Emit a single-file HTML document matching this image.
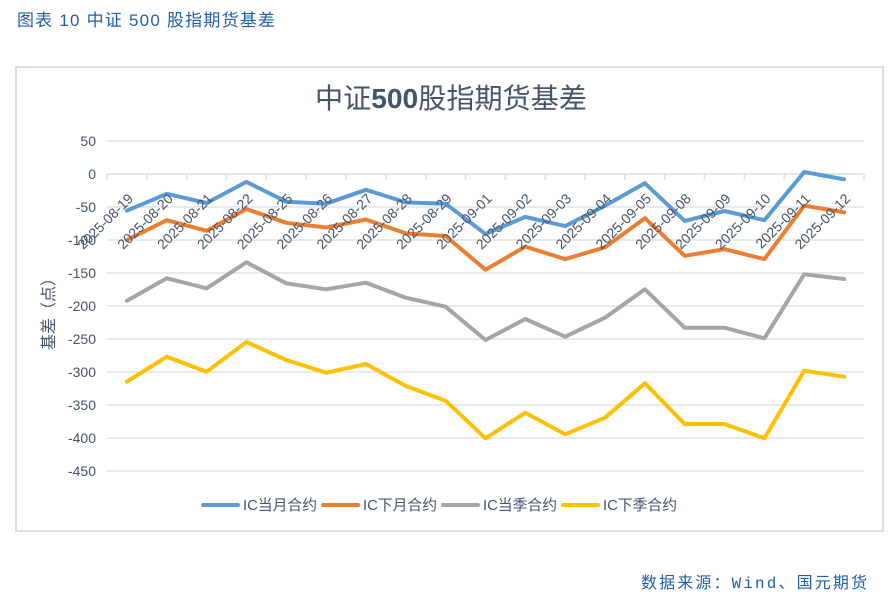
<!DOCTYPE html>
<html><head><meta charset="utf-8"><style>
html,body{margin:0;padding:0;background:#fff;}
svg{display:block;}
text{font-family:"Liberation Sans","Noto Sans CJK SC",sans-serif;}
</style></head><body>
<svg width="890" height="597" viewBox="0 0 890 597" xmlns="http://www.w3.org/2000/svg">
<rect width="890" height="597" fill="#fff"/>
<text x="17" y="26" font-size="17" fill="#2160a8" textLength="258" lengthAdjust="spacing">图表 10  中证 500 股指期货基差</text>
<rect x="16" y="67" width="867" height="464" fill="#fff" stroke="#dbe0e6" stroke-width="2"/>
<text x="451" y="108" font-size="28" fill="#44546a" text-anchor="middle" textLength="272" lengthAdjust="spacingAndGlyphs">中证<tspan font-weight="bold">500</tspan>股指期货基差</text>
<g stroke="#dfe3e8" stroke-width="1.4">
<line x1="107" y1="141" x2="864" y2="141"/>
<line x1="107" y1="207" x2="864" y2="207"/>
<line x1="107" y1="240" x2="864" y2="240"/>
<line x1="107" y1="273" x2="864" y2="273"/>
<line x1="107" y1="306" x2="864" y2="306"/>
<line x1="107" y1="339" x2="864" y2="339"/>
<line x1="107" y1="372" x2="864" y2="372"/>
<line x1="107" y1="405" x2="864" y2="405"/>
<line x1="107" y1="438" x2="864" y2="438"/>
<line x1="107" y1="471" x2="864" y2="471"/>
<line x1="107" y1="174" x2="864" y2="174" stroke-width="1.8"/>
<path d="M107 174v6M146.8 174v6M186.7 174v6M226.5 174v6M266.4 174v6M306.2 174v6M346.1 174v6M385.9 174v6M425.7 174v6M465.6 174v6M505.4 174v6M545.3 174v6M585.1 174v6M624.9 174v6M664.8 174v6M704.6 174v6M744.5 174v6M784.3 174v6M824.1 174v6M864 174v6" stroke-width="1.8"/>
</g>
<g font-size="14" fill="#44546a" text-anchor="end">
<text x="96" y="146">50</text>
<text x="96" y="179">0</text>
<text x="96" y="212">-50</text>
<text x="96" y="245">-100</text>
<text x="96" y="278">-150</text>
<text x="96" y="311">-200</text>
<text x="96" y="344">-250</text>
<text x="96" y="377">-300</text>
<text x="96" y="410">-350</text>
<text x="96" y="443">-400</text>
<text x="96" y="476">-450</text>
</g>
<text transform="translate(54,310) rotate(-90)" font-size="16" fill="#44546a" text-anchor="middle">基差（点）</text>
<g fill="none" stroke-width="4" stroke-linejoin="round" stroke-linecap="round">
<polyline stroke="#ffc000" points="126.9,381.7 166.8,356.7 206.6,371.7 246.4,342 286.3,360 326.1,372.7 366,364 405.8,386 445.6,400.7 485.5,438.3 525.3,412.7 565.2,434.3 605,417.7 644.9,383.3 684.7,424 724.5,424 764.4,438.3 804.2,370.7 844.1,376.7"/>
<polyline stroke="#a5a5a5" points="126.9,300.7 166.8,278.3 206.6,288.3 246.4,262.3 286.3,283.3 326.1,289.3 366,282.7 405.8,297.7 445.6,306.7 485.5,340 525.3,319 565.2,336.7 605,317.7 644.9,289.3 684.7,327.7 724.5,327.7 764.4,338.3 804.2,274.3 844.1,279"/>
<polyline stroke="#ed7d31" points="126.9,240 166.8,220.2 206.6,230.8 246.4,209 286.3,222.8 326.1,227.5 366,219.5 405.8,233.4 445.6,236 485.5,269.7 525.3,246.6 565.2,259.1 605,247.3 644.9,218.2 684.7,255.8 724.5,249.2 764.4,259.1 804.2,205.7 844.1,212.3"/>
<polyline stroke="#5b9bd5" points="126.9,210.7 166.8,193.8 206.6,203 246.4,181.9 286.3,201.7 326.1,203.7 366,189.8 405.8,202.4 445.6,203.7 485.5,234 525.3,216.9 565.2,226.1 605,205.7 644.9,183.2 684.7,220.9 724.5,211 764.4,220.2 804.2,172 844.1,179.3"/>
</g>
<g font-size="14" fill="#44546a" text-anchor="end">
<text transform="translate(134,199.5) rotate(-45)">2025-08-19</text>
<text transform="translate(173.9,199.5) rotate(-45)">2025-08-20</text>
<text transform="translate(213.7,199.5) rotate(-45)">2025-08-21</text>
<text transform="translate(253.5,199.5) rotate(-45)">2025-08-22</text>
<text transform="translate(293.4,199.5) rotate(-45)">2025-08-25</text>
<text transform="translate(333.2,199.5) rotate(-45)">2025-08-26</text>
<text transform="translate(373.1,199.5) rotate(-45)">2025-08-27</text>
<text transform="translate(412.9,199.5) rotate(-45)">2025-08-28</text>
<text transform="translate(452.7,199.5) rotate(-45)">2025-08-29</text>
<text transform="translate(492.6,199.5) rotate(-45)">2025-09-01</text>
<text transform="translate(532.4,199.5) rotate(-45)">2025-09-02</text>
<text transform="translate(572.3,199.5) rotate(-45)">2025-09-03</text>
<text transform="translate(612.1,199.5) rotate(-45)">2025-09-04</text>
<text transform="translate(652,199.5) rotate(-45)">2025-09-05</text>
<text transform="translate(691.8,199.5) rotate(-45)">2025-09-08</text>
<text transform="translate(731.6,199.5) rotate(-45)">2025-09-09</text>
<text transform="translate(771.5,199.5) rotate(-45)">2025-09-10</text>
<text transform="translate(811.3,199.5) rotate(-45)">2025-09-11</text>
<text transform="translate(851.2,199.5) rotate(-45)">2025-09-12</text>
</g>
<g stroke-width="4" stroke-linecap="round">
<line x1="203" y1="505" x2="238" y2="505" stroke="#5b9bd5"/>
<line x1="323" y1="505" x2="358" y2="505" stroke="#ed7d31"/>
<line x1="443" y1="505" x2="478" y2="505" stroke="#a5a5a5"/>
<line x1="563" y1="505" x2="598" y2="505" stroke="#ffc000"/>
</g>
<g font-size="15" fill="#44546a">
<text x="243" y="510" textLength="74" lengthAdjust="spacingAndGlyphs">IC当月合约</text>
<text x="363" y="510" textLength="74" lengthAdjust="spacingAndGlyphs">IC下月合约</text>
<text x="483" y="510" textLength="74" lengthAdjust="spacingAndGlyphs">IC当季合约</text>
<text x="603" y="510" textLength="74" lengthAdjust="spacingAndGlyphs">IC下季合约</text>
</g>
<text x="641" y="588" font-size="16" fill="#2160a8" textLength="226" lengthAdjust="spacing">数据来源：<tspan font-family="Liberation Mono, monospace">Wind</tspan>、国元期货</text>
</svg>
</body></html>
